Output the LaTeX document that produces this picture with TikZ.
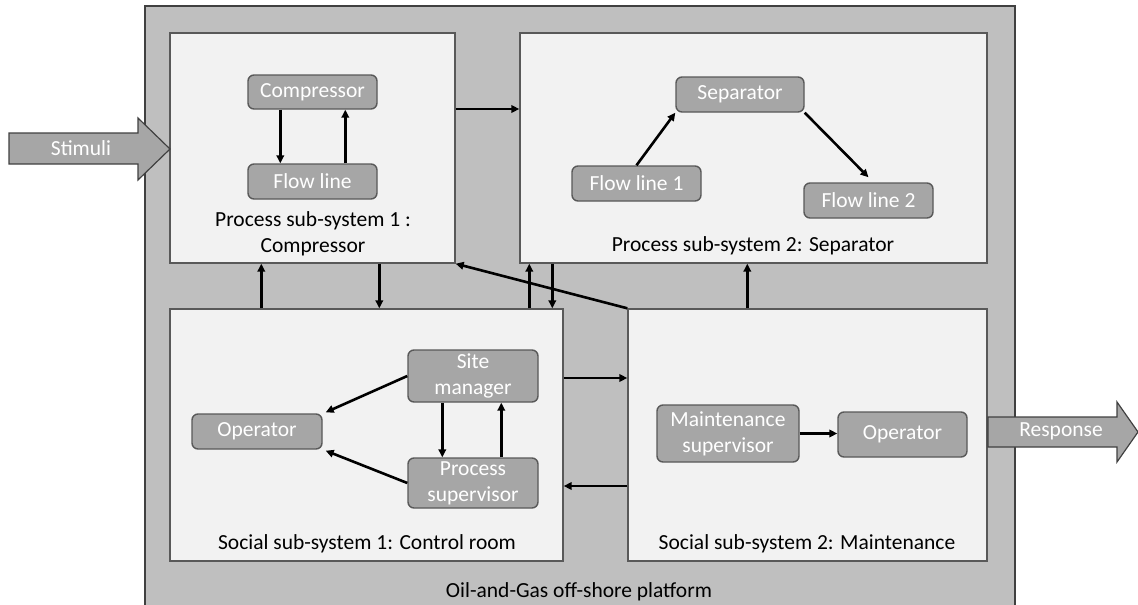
\documentclass[tikz,border=0pt]{standalone}
\usepackage{fontspec}
\setmainfont{Carlito}
\usetikzlibrary{arrows.meta}
\definecolor{outerg}{HTML}{BFBFBF}
\definecolor{boxg}{HTML}{F2F2F2}
\definecolor{innerg}{HTML}{A6A6A6}
\definecolor{edgeg}{HTML}{595959}
\definecolor{darkedge}{HTML}{404040}
\tikzset{
  sysbox/.style={draw=edgeg, fill=boxg, line width=1.4pt, inner sep=0pt},
  inbox/.style={draw=edgeg, fill=innerg, line width=1.4pt, rounded corners=6pt, inner sep=0pt, text=white, align=center, font=\fontsize{21.5}{26}\selectfont},
  lbl/.style={inner sep=0pt, align=center, text=black, font=\fontsize{21.5}{26}\selectfont},
  conn/.style={line width=2.6pt, -{Triangle[length=8pt,width=7.5pt]}},
  bigarrow/.style={draw=darkedge, fill=innerg, line width=1.2pt, line join=miter}
}
\begin{document}
\begin{tikzpicture}[x=1pt,y=-1pt]
\useasboundingbox (0,0) rectangle (1138,605);
\clip (0,0) rectangle (1138,605);
% outer platform
\draw[draw=darkedge, fill=outerg, line width=1.2pt] (145,6) rectangle (1015,640);
% subsystem boxes
\node[sysbox, minimum width=285pt, minimum height=230pt] (b1) at (312.5,148) {};
\node[sysbox, minimum width=467pt, minimum height=230pt] (b2) at (753.5,148) {};
\node[sysbox, minimum width=393pt, minimum height=252pt] (b3) at (366.5,435) {};
\node[sysbox, minimum width=359pt, minimum height=252pt] (b4) at (807.5,435) {};
% labels
\node[lbl] (l1) at (313,234) {Process sub-system 1 :\\Compressor};
\node[lbl] (l2) at (753,246) {Process sub-system 2: Separator};
\node[lbl] (l3) at (367,544) {Social sub-system 1: Control room};
\node[lbl] (l4) at (807,544) {Social sub-system 2: Maintenance};
\node[lbl] (l5) at (579,592) {Oil-and-Gas off-shore platform};
% inner nodes
\node[inbox, minimum width=129pt, minimum height=34pt] (comp) at (312.5,92) {Compressor};
\node[inbox, minimum width=129pt, minimum height=35pt] (fl) at (312.5,181.5) {Flow line};
\node[inbox, minimum width=128pt, minimum height=35pt] (sep) at (740,94.5) {Separator};
\node[inbox, minimum width=129pt, minimum height=35pt] (fl1) at (636.5,183.5) {Flow line 1};
\node[inbox, minimum width=129pt, minimum height=35pt] (fl2) at (868.5,200.5) {Flow line 2};
\node[inbox, minimum width=130pt, minimum height=52pt] (sm) at (473,376) {Site\\manager};
\node[inbox, minimum width=130pt, minimum height=50pt] (ps) at (473,483) {Process\\supervisor};
\node[inbox, minimum width=130pt, minimum height=35pt] (op1) at (257,431.5) {Operator};
\node[inbox, minimum width=142pt, minimum height=57pt] (ms) at (728,433.5) {Maintenance\\supervisor};
\node[inbox, minimum width=129pt, minimum height=45pt] (op2) at (902.5,434.5) {Operator};
% stimuli and response arrows
\draw[bigarrow] (9,133) -- (138,133) -- (138,118) -- (170,149) -- (138,180) -- (138,164) -- (9,164) -- cycle;
\node[lbl, text=white] (stim) at (81,148) {Stimuli};
\draw[bigarrow] (988,417) -- (1117,417) -- (1117,402) -- (1138,432) -- (1117,462) -- (1117,447) -- (988,447) -- cycle;
\node[lbl, text=white] (resp) at (1061,431) {Response};
% connectors between subsystems
\draw[conn] ([yshift=39pt]b1.east) -- ([yshift=39pt]b2.west);
\draw[conn] ([xshift=92pt]b3.north west) -- ([xshift=92pt]b1.south west);
\draw[conn] ([xshift=210pt]b1.south west) -- ([xshift=210pt]b3.north west);
\draw[conn] ([xshift=360pt]b3.north west) -- ([xshift=10pt]b2.south west);
\draw[conn] ([xshift=33pt]b2.south west) -- ([xshift=383pt]b3.north west);
\draw[conn] (b4.north west) -- (b1.south east);
\draw[conn] ([xshift=120pt]b4.north west) -- ([xshift=228pt]b2.south west);
\draw[conn] ([yshift=57pt]b3.east) -- ([yshift=57pt]b4.west);
\draw[conn] ([yshift=-51pt]b4.west) -- ([yshift=-51pt]b3.east);
% inner connectors
\draw[conn] ([xshift=33pt]comp.south west) -- ([xshift=33pt]fl.north west);
\draw[conn] ([xshift=98pt]fl.north west) -- ([xshift=98pt]comp.south west);
\draw[conn] (fl1.north) -- (sep.south west);
\draw[conn] (sep.south east) -- ([yshift=5pt]fl2.north);
\draw[conn] (sm.west) -- ([xshift=3pt,yshift=1pt]op1.north east);
\draw[conn] (ps.west) -- ([xshift=3pt,yshift=-1pt]op1.south east);
\draw[conn] ([xshift=35pt]sm.south west) -- ([xshift=35pt]ps.north west);
\draw[conn] ([xshift=94pt]ps.north west) -- ([xshift=94pt]sm.south west);
\draw[conn] (ms.east) -- (ms.east -| op2.west);
\end{tikzpicture}
\end{document}
